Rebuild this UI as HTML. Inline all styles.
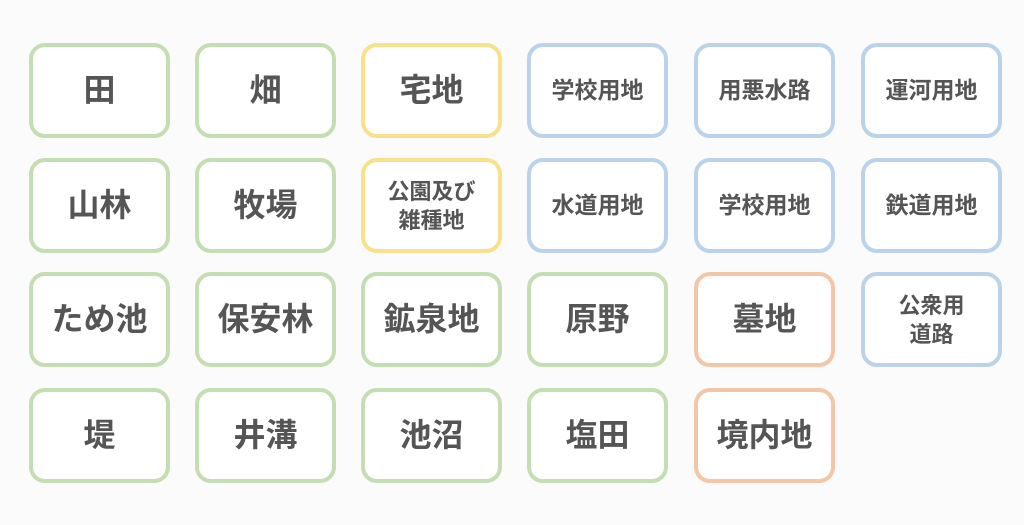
<!DOCTYPE html>
<html><head><meta charset="utf-8"><style>
html,body{margin:0;padding:0;background:#fbfbfb;width:1024px;height:525px;overflow:hidden}
.b{position:absolute;width:133px;height:87px;border:4px solid;border-radius:16px;background:#fff;box-sizing:content-box;display:flex;align-items:center;justify-content:center;text-align:center;color:#555;font-family:"Liberation Sans","Noto Sans CJK JP",sans-serif;font-weight:bold;font-size:32px;line-height:1.2}
.s{font-size:23px}
.t{font-size:22px;line-height:29px}
.g{border-color:#c5ddb2}.y{border-color:#f9e08c}.u{border-color:#bad3eb}.o{border-color:#f3c6a7}
</style></head><body>
<div class="b g" style="left:29px;top:43px">田</div>
<div class="b g" style="left:195px;top:43px">畑</div>
<div class="b y" style="left:361px;top:43px">宅地</div>
<div class="b u s" style="left:527px;top:43px">学校用地</div>
<div class="b u s" style="left:694px;top:43px">用悪水路</div>
<div class="b u s" style="left:861px;top:43px">運河用地</div>

<div class="b g" style="left:29px;top:158px">山林</div>
<div class="b g" style="left:195px;top:158px">牧場</div>
<div class="b y t" style="left:361px;top:158px">公園及び<br>雑種地</div>
<div class="b u s" style="left:527px;top:158px">水道用地</div>
<div class="b u s" style="left:694px;top:158px">学校用地</div>
<div class="b u s" style="left:861px;top:158px">鉄道用地</div>

<div class="b g" style="left:29px;top:272px">ため池</div>
<div class="b g" style="left:195px;top:272px">保安林</div>
<div class="b g" style="left:361px;top:272px">鉱泉地</div>
<div class="b g" style="left:527px;top:272px">原野</div>
<div class="b o" style="left:694px;top:272px">墓地</div>
<div class="b u t" style="left:861px;top:272px">公衆用<br>道路</div>

<div class="b g" style="left:29px;top:388px">堤</div>
<div class="b g" style="left:195px;top:388px">井溝</div>
<div class="b g" style="left:361px;top:388px">池沼</div>
<div class="b g" style="left:527px;top:388px">塩田</div>
<div class="b o" style="left:694px;top:388px">境内地</div>
</body></html>
